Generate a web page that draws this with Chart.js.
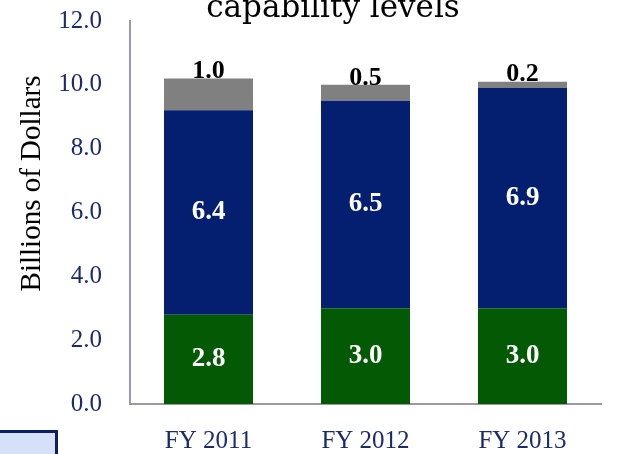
<!DOCTYPE html>
<html>
<head>
<meta charset="utf-8">
<script src="https://cdn.jsdelivr.net/npm/chart.js@4"></script>
<style>
    html, body { margin: 0; padding: 0; background: #fff; }
    #wrap { position: relative; width: 626px; height: 454px; overflow: hidden; }
    #legendBox {
        position: absolute; left: -3px; top: 430px; width: 55px; height: 40px;
        background: #d6e0f8; border: 3px solid #0c1f5e;
    }
</style>
</head>
<body>
<div id="wrap">
    <canvas id="myChart" width="626" height="454"></canvas>
    <div id="legendBox"></div>
</div>
<script>
const categories = ["FY 2011", "FY 2012", "FY 2013"];
const greenValues = [2.8, 3.0, 3.0];
const navyValues = [6.4, 6.5, 6.9];
const grayValues = [1.0, 0.5, 0.2];
const yMin = 0, yMax = 12, yStep = 2;
const titleText = "capability levels";

const ctx = document.getElementById("myChart");
const serif = "'Liberation Serif', 'Times New Roman', serif";
const tickColor = "#1c2b6b";

// title sits half cut off at the top edge, so it is drawn by hand
const cutTitle = {
    id: "cutTitle",
    afterDraw(chart) {
        const c = chart.ctx;
        c.save();
        c.font = "31px 'DejaVu Serif', serif";
        c.fillStyle = "#000000";
        c.textAlign = "center";
        c.textBaseline = "alphabetic";
        c.fillText(titleText, 333, 17);
        c.restore();
    }
};

// value labels: white in the middle of the lower segments, black above the top one
const barLabels = {
    id: "barLabels",
    afterDatasetsDraw(chart) {
        const c = chart.ctx;
        c.save();
        c.textAlign = "center";
        c.textBaseline = "middle";
        chart.data.datasets.forEach((ds, i) => {
            chart.getDatasetMeta(i).data.forEach((bar, j) => {
                const txt = ds.data[j].toFixed(1);
                if (i < 2) {
                    c.font = "bold 27px " + serif;
                    c.fillStyle = "#ffffff";
                    c.fillText(txt, bar.x, (bar.y + bar.base) / 2);
                } else {
                    c.font = "bold 26px " + serif;
                    c.fillStyle = "#000000";
                    c.fillText(txt, bar.x, bar.y - 7);
                }
            });
        });
        c.restore();
    }
};

new Chart(ctx, {
    type: "bar",
    data: {
        labels: categories,
        datasets: [
            { label: "Green", data: greenValues, backgroundColor: "#045a04" },
            { label: "Navy", data: navyValues, backgroundColor: "#041f6f" },
            { label: "Gray", data: grayValues, backgroundColor: "#808080" }
        ]
    },
    options: {
        responsive: false,
        animation: false,
        layout: { padding: { left: 0, right: 25, top: 21, bottom: 0 } },
        datasets: {
            bar: { categoryPercentage: 1, barPercentage: 0.567, borderWidth: 0 }
        },
        scales: {
            x: {
                stacked: true,
                grid: { display: false, drawTicks: false },
                border: { display: true, color: "#9a9aa6", width: 2 },
                ticks: { color: tickColor, font: { family: serif, size: 25 }, padding: 22 },
                afterFit(scale) { scale.height = 50; }
            },
            y: {
                stacked: true,
                min: yMin,
                max: yMax,
                grid: { display: false, drawTicks: false },
                border: { display: true, color: "#9a9aa6", width: 2 },
                ticks: {
                    stepSize: yStep,
                    color: tickColor,
                    font: { family: serif, size: 25 },
                    padding: 28,
                    callback: (v) => Number(v).toFixed(1)
                },
                title: {
                    display: true,
                    text: "        Billions of Dollars",
                    color: "#000000",
                    font: { family: serif, size: 29 },
                    padding: { top: 15, bottom: 0 }
                },
                afterFit(scale) {
                    scale.width = 130;
                    // tick padding would otherwise push the plot area down
                    scale.paddingTop = 0;
                    scale.paddingBottom = 0;
                }
            }
        },
        plugins: {
            legend: { display: false },
            tooltip: { enabled: false },
            title: { display: false }
        }
    },
    plugins: [barLabels, cutTitle]
});
</script>
</body>
</html>
